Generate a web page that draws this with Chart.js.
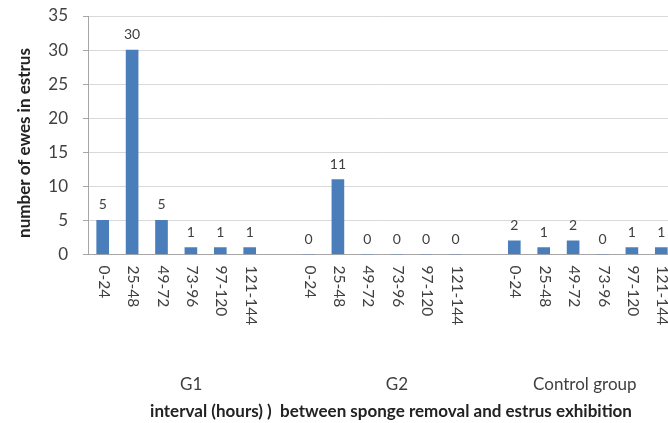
<!DOCTYPE html>
<html><head><meta charset="utf-8">
<script src="https://cdn.jsdelivr.net/npm/chart.js@4/dist/chart.umd.min.js"></script>
<style>
html,body{margin:0;padding:0;background:#fff;overflow:hidden;width:668px;height:423px;}
#wrap{position:absolute;left:0;top:0;width:700px;height:423px;}
</style></head>
<body><div id="wrap"><canvas id="c" width="700" height="423"></canvas></div>
<script>
const categories = ["0-24","25-48","49-72","73-96","97-120","121-144","",
                    "0-24","25-48","49-72","73-96","97-120","121-144","",
                    "0-24","25-48","49-72","73-96","97-120","121-144"];
const values = [5,30,5,1,1,1,null, 0,11,0,0,0,0,null, 2,1,2,0,1,1];
const groupNames = ["G1","G2","Control group"];
const groupRanges = [[0,5],[7,12],[14,19]];
const yTicks = [0,5,10,15,20,25,30,35];
const yTitle = "number of ewes in estrus";
const xTitle = "interval (hours) )  between sponge removal and estrus exhibition";

const FONT = "Lato, 'Open Sans', sans-serif";
const TXT = "#404040";
const groupShift = [15, 15, -3];

const textPlugin = {
  id: 'textPlugin',
  afterDraw(chart) {
    const ctx = chart.ctx;
    const xs = chart.scales.x, ys = chart.scales.y;
    ctx.save();
    // data labels
    ctx.fillStyle = TXT;
    ctx.font = "14px " + FONT;
    ctx.textAlign = "center";
    ctx.textBaseline = "alphabetic";
    const meta = chart.getDatasetMeta(0);
    meta.data.forEach((el, i) => {
      const v = values[i];
      if (v === null) return;
      ctx.fillText(String(v), el.x, el.y - 11);
    });
    // x tick labels rotated clockwise
    ctx.font = "15.5px " + FONT;
    ctx.textAlign = "left";
    ctx.textBaseline = "middle";
    categories.forEach((c, i) => {
      if (!c) return;
      const x = xs.getPixelForValue(i);
      ctx.save();
      ctx.translate(x + 1, ys.bottom + 11);
      ctx.rotate(Math.PI / 2);
      ctx.fillText(c, 0, 0);
      ctx.restore();
    });
    // group labels
    ctx.textAlign = "center";
    ctx.textBaseline = "middle";
    ctx.font = "17px " + FONT;
    groupRanges.forEach((r, gi) => {
      const x = (xs.getPixelForValue(r[0]) + xs.getPixelForValue(r[1])) / 2 + groupShift[gi];
      ctx.fillText(groupNames[gi], x, 385);
    });
    // x title
    ctx.font = "bold 17px " + FONT;
    ctx.fillStyle = "#222";
    ctx.fillText(xTitle, 391, 412);
    // y title
    ctx.save();
    ctx.translate(25, 143);
    ctx.rotate(-Math.PI / 2);
    ctx.font = "bold 17px " + FONT;
    ctx.fillText(yTitle, 0, 0);
    ctx.restore();
    ctx.restore();
  }
};

new Chart(document.getElementById('c'), {
  type: 'bar',
  data: {
    labels: categories,
    datasets: [{
      data: values,
      backgroundColor: '#4A7EBB',
      barThickness: 12
    }]
  },
  options: {
    responsive: false,
    animation: false,
    devicePixelRatio: 1,
    layout: { padding: { top: 16, right: 24, left: 0, bottom: 0 } },
    plugins: { legend: { display: false }, tooltip: { enabled: false } },
    scales: {
      x: {
        grid: { display: false, drawTicks: false },
        border: { display: true, color: '#A6A6A6', width: 1 },
        ticks: { display: false },
        afterFit(scale) { scale.height = 423 - 254.5; scale.paddingLeft = 0; scale.paddingRight = 0; }
      },
      y: {
        min: 0, max: 35,
        afterBuildTicks(scale) { scale.ticks = yTicks.map(v => ({ value: v })); },
        grid: { color: '#D9D9D9', tickLength: 5, tickColor: '#A6A6A6' },
        border: { display: true, color: '#A6A6A6' },
        ticks: { color: TXT, font: { size: 17, family: FONT }, padding: 15 },
        afterFit(scale) { scale.width = 88; scale.paddingTop = 0; scale.paddingBottom = 0; }
      }
    }
  },
  plugins: [textPlugin]
});
</script></body></html>
